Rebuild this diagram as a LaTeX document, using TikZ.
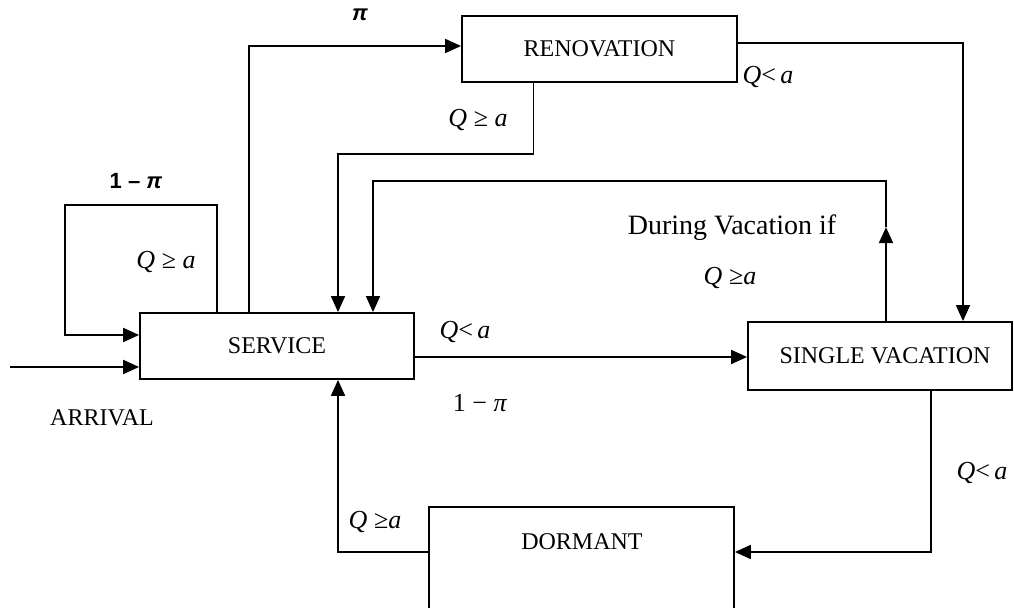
\documentclass[tikz,border=0pt]{standalone}
\usepackage{fontspec}
\setmainfont{Liberation Serif}
\setsansfont{Liberation Sans}
\usetikzlibrary{arrows.meta,calc}

\begin{document}
\begin{tikzpicture}[
  x=0.5pt, y=-0.5pt,
  font=\fontsize{12}{14}\selectfont,
  state/.style={rectangle, draw=black, line width=0.9pt, fill=white, inner sep=0pt, align=center},
  flow/.style={-{Triangle[length=8pt,width=7pt]}, line width=0.9pt},
  cond/.style={font=\fontsize{13}{15}\selectfont},
  bprob/.style={font=\fontsize{11}{13}\selectfont\sffamily\bfseries},
]
\clip (0,0) rectangle (1014,608);

% ---------- the four states
\node[state, minimum width=137pt, minimum height=33pt] (serv) at (277,346) {SERVICE};
\node[state, minimum width=137.5pt, minimum height=33pt] (reno) at (599.5,49) {RENOVATION};
\node[state, minimum width=132pt, minimum height=34pt] (sv) at (880,356) {\hspace*{5pt}SINGLE VACATION};
\node[state, minimum width=152.5pt, minimum height=75pt, anchor=north] (dorm) at (581.5,506) {};
\node (dormlbl) at (582,542) {DORMANT};

% ---------- arrivals and the self loop
\coordinate (arr) at (10,367);
\draw[flow] (arr) -- (arr -| serv.west);
\node (arrlbl) at (102,418) {ARRIVAL};
\draw[flow] ($(serv.north)+(-60,0)$) |- (65,205) |- ($(serv.west)+(0,-11)$);
\node[bprob] (p1) at (136,181) {1 -- \textit{π}};
\node[cond] (c1) at (166,262) {\textit{Q} ≥ \textit{a}};

% ---------- service to renovation and back
\draw[flow] ($(serv.north)+(-28,0)$) |- ($(reno.west)+(0,-3)$);
\node[bprob] (p2) at (360,15) {\textit{π}};
\draw[flow] ($(reno.south)+(-66,0)$) |- ($(serv.north)+(61,-158)$) -- ($(serv.north)+(61,0)$);
\node[cond] (c2) at (478,120) {\textit{Q} ≥ \textit{a}};
\draw[flow] ($(reno.east)+(0,-6)$) -| ($(sv.north)+(83,0)$);
\node[cond] (c3) at (768,77) {\textit{Q}<\,\textit{a}};

% ---------- vacation loop
\draw[flow] ($(sv.north)+(6,0)$) -- ($(sv.north)+(6,-94)$);
\draw[flow] ($(sv.north)+(6,-94)$) -- ($(sv.north)+(6,-140)$) -| ($(serv.north)+(96,0)$);
\node (vaclbl) at (732,228) {\fontsize{14}{16}\selectfont During Vacation if};
\node[cond] (c4) at (730,278) {\textit{Q} ≥\textit{a}};

% ---------- service to vacation
\draw[flow] ($(serv.east)+(0,11)$) -- ($(sv.west)+(0,1)$);
\node[cond] (c5) at (465,332) {\textit{Q}<\,\textit{a}};
\node[cond] (p3) at (480,403) {1 − \textit{π}};

% ---------- vacation to dormant to service
\draw[flow] ($(sv.south)+(51,0)$) |- ($(dorm.north east)+(0,46)$);
\node[cond] (c6) at (982,473) {\textit{Q}<\,\textit{a}};
\draw[flow] ($(dorm.north west)+(0,46)$) -| ($(serv.south)+(61,0)$);
\node[cond] (c7) at (375,522) {\textit{Q} ≥\textit{a}};
\end{tikzpicture}
\end{document}
